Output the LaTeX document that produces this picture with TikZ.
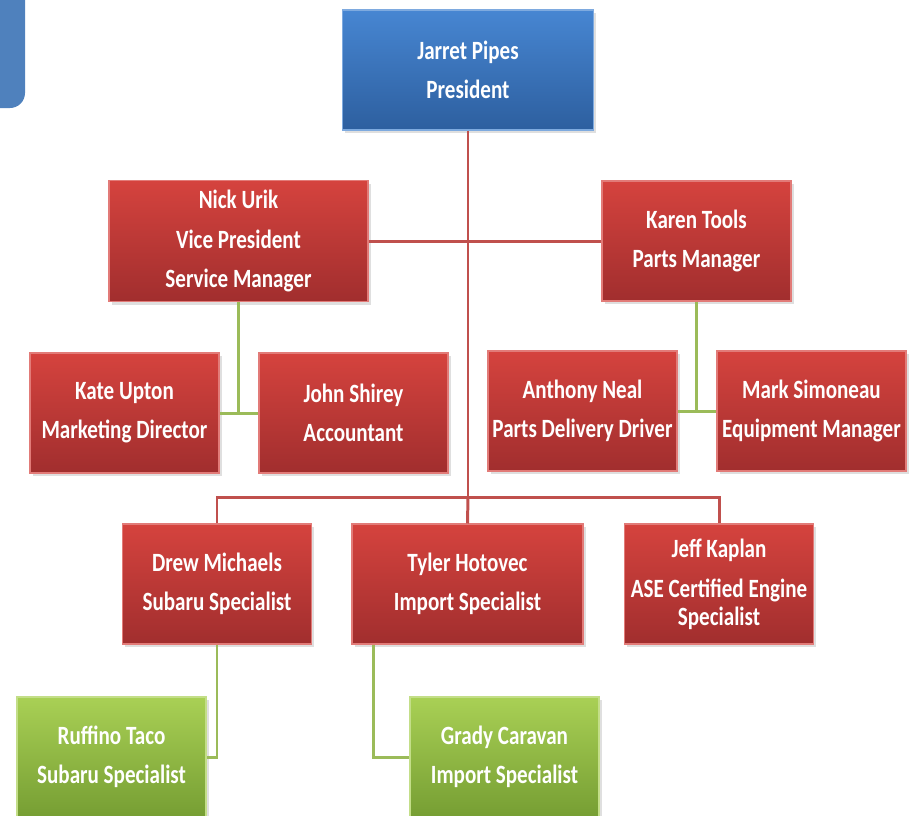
\documentclass[tikz,border=0pt]{standalone}
\usepackage{fontspec}
\setmainfont{Carlito}[FakeStretch=0.8]
\usetikzlibrary{shadows}

\definecolor{boxred}{HTML}{C0504D}
\definecolor{boxgreen}{HTML}{9BBB59}
\definecolor{boxblue}{HTML}{4F81BD}
\definecolor{redtop}{HTML}{D5433E}
\definecolor{redbottom}{HTML}{A12E2E}
\definecolor{bluetop}{HTML}{4786D2}
\definecolor{bluebottom}{HTML}{2D5F9F}
\definecolor{greentop}{HTML}{A9D055}
\definecolor{greenbottom}{HTML}{769E33}

\tikzset{
  card/.style={rectangle, draw=#1, line width=0.6pt, text=white,
    align=center, font=\fontsize{15}{16}\selectfont\bfseries,
    minimum width=3.78cm, minimum height=2.4cm, inner sep=2pt,
    drop shadow={shadow xshift=0.05cm, shadow yshift=-0.06cm, opacity=0.25}},
  redcard/.style={card=redtop!70!white, top color=redtop, bottom color=redbottom},
  bluecard/.style={card=bluetop!70!white, top color=bluetop, bottom color=bluebottom},
  greencard/.style={card=greentop!70!white, top color=greentop, bottom color=greenbottom},
  redline/.style={line width=1.7pt, boxred},
  greenline/.style={line width=1.7pt, boxgreen},
}

\begin{document}
\begin{tikzpicture}
        \useasboundingbox (0,0) rectangle (18.24,-16.3);
        \fill[boxblue] (0,0) -- (0.5,0) -- (0.5,-1.86) arc[start angle=0,end angle=-90,radius=0.3] -- (0,-2.16) -- cycle;

        \coordinate (bus) at (9.36,-9.94);

        \node[bluecard, minimum width=5.02cm] (pres) at (9.36,-1.40) {Jarret Pipes\\[0.22cm]President};
        \node[redcard, minimum width=5.18cm, minimum height=2.42cm] (nick) at (4.77,-4.82) {Nick Urik\\[0.22cm]Vice President\\[0.22cm]Service Manager};
        \node[redcard] (karen) at (13.93,-4.82) {Karen Tools\\[0.22cm]Parts Manager};
        \node[redcard] (kate) at (2.49,-8.26) {Kate Upton\\[0.22cm]Marketing Director};
        \node[redcard] (john) at (7.07,-8.26) {John Shirey\\[0.22cm]Accountant};
        \node[redcard] (anthony) at (11.65,-8.22) {Anthony Neal\\[0.22cm]Parts Delivery Driver};
        \node[redcard] (mark) at (16.23,-8.22) {Mark Simoneau\\[0.22cm]Equipment Manager};
        \node[redcard] (drew) at (4.34,-11.68) {Drew Michaels\\[0.22cm]Subaru Specialist};
        \node[redcard, minimum width=4.62cm] (tyler) at (9.35,-11.68) {Tyler Hotovec\\[0.22cm]Import Specialist};
        \node[redcard] (jeff) at (14.38,-11.68) {Jeff Kaplan\\[0.24cm]ASE Certified Engine\\Specialist};
        \node[greencard] (ruffino) at (2.23,-15.14) {Ruffino Taco\\[0.22cm]Subaru Specialist};
        \node[greencard] (grady) at (10.09,-15.14) {Grady Caravan\\[0.22cm]Import Specialist};

        % red lines
        \draw[redline] (pres.south) -- (bus);
        \draw[redline] (nick.east) -- (karen.west);
        \draw[redline] (drew.north) -- (drew |- bus) -- (jeff |- bus) -- (jeff.north);
        \draw[redline] (tyler.north) -- (bus);

        % green lines
        \draw[greenline] (nick.south) -- (nick |- kate.east);
        \draw[greenline] (kate.east) -- (john.west);
        \draw[greenline] (karen.south) -- (karen |- anthony.east);
        \draw[greenline] (anthony.east) -- (mark.west);
        \draw[greenline] (drew.south) -- (drew |- ruffino.east) -- (ruffino.east);
        \coordinate (tylerleg) at ([xshift=0.44cm]tyler.south west);
        \draw[greenline] (tylerleg) -- (tylerleg |- grady.west) -- (grady.west);

    \end{tikzpicture}
\end{document}
